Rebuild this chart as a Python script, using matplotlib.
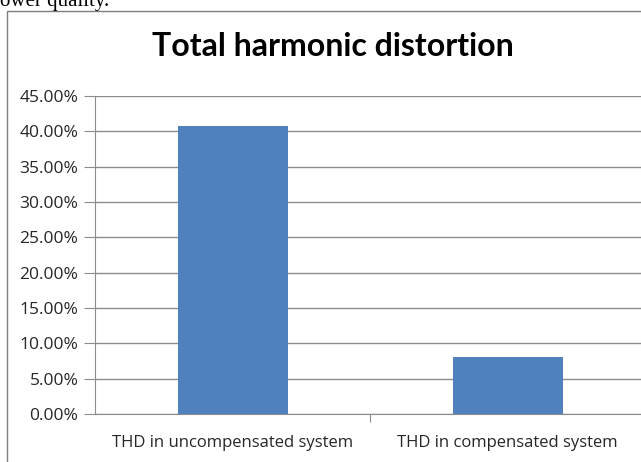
import matplotlib.pyplot as plt
from matplotlib.patches import Rectangle
from matplotlib.ticker import FuncFormatter

# THD values (percent)
categories = ['THD in uncompensated system', 'THD in compensated system']
thd_values = [40.8, 8.0]
y_ticks = [0, 5, 10, 15, 20, 25, 30, 35, 40, 45]

W, H = 641, 462
fig = plt.figure(figsize=(W / 100, H / 100), dpi=100)

# chart frame, runs past the right and bottom edges
fig.patches.append(Rectangle((7 / W, -0.1), 1.2, 1 - 11 / H + 0.1,
                             transform=fig.transFigure, fill=False,
                             edgecolor='#7f7f7f', linewidth=1.0))

# end of the caption line above the frame
fig.text(0, 1 + 8 / H, 'ower quality.', family='Liberation Serif',
         fontsize=15, va='top', ha='left', color='black')

ax = fig.add_axes([95 / W, 1 - 414 / H, 550 / W, (414 - 96) / H])

ax.bar(range(len(categories)), thd_values, width=0.4, color='#4f81bd', zorder=3)

ax.set_xlim(-0.5, 1.5)
ax.set_ylim(0, 45)
ax.set_yticks(y_ticks)
ax.yaxis.set_major_formatter(FuncFormatter(lambda v, p: f'{v:.2f}%'))
ax.set_xticks([0.5])
ax.set_xticklabels([''])
for i, c in enumerate(categories):
    ax.text(i, -0.092, c, transform=ax.get_xaxis_transform(), ha='center',
            va='center', fontsize=12, family='Open Sans', color='#262626')

ax.grid(axis='y', color='#8c8c8c', linewidth=1.0, zorder=0)
for s in ['top', 'right']:
    ax.spines[s].set_visible(False)
ax.spines['left'].set_color('#8c8c8c')
ax.spines['bottom'].set_color('#8c8c8c')
ax.tick_params(axis='y', length=8, color='#8c8c8c', labelsize=12.5, pad=4,
               labelcolor='#262626')
ax.tick_params(axis='x', length=6, color='#8c8c8c', direction='out')
for lbl in ax.get_yticklabels():
    lbl.set_family('Open Sans')

fig.text(333 / W, 1 - 47 / H, 'Total harmonic distortion', ha='center',
         va='center', fontsize=23, fontweight='bold', family='Lato',
         color='black')

fig.savefig('out.png', dpi=100)
